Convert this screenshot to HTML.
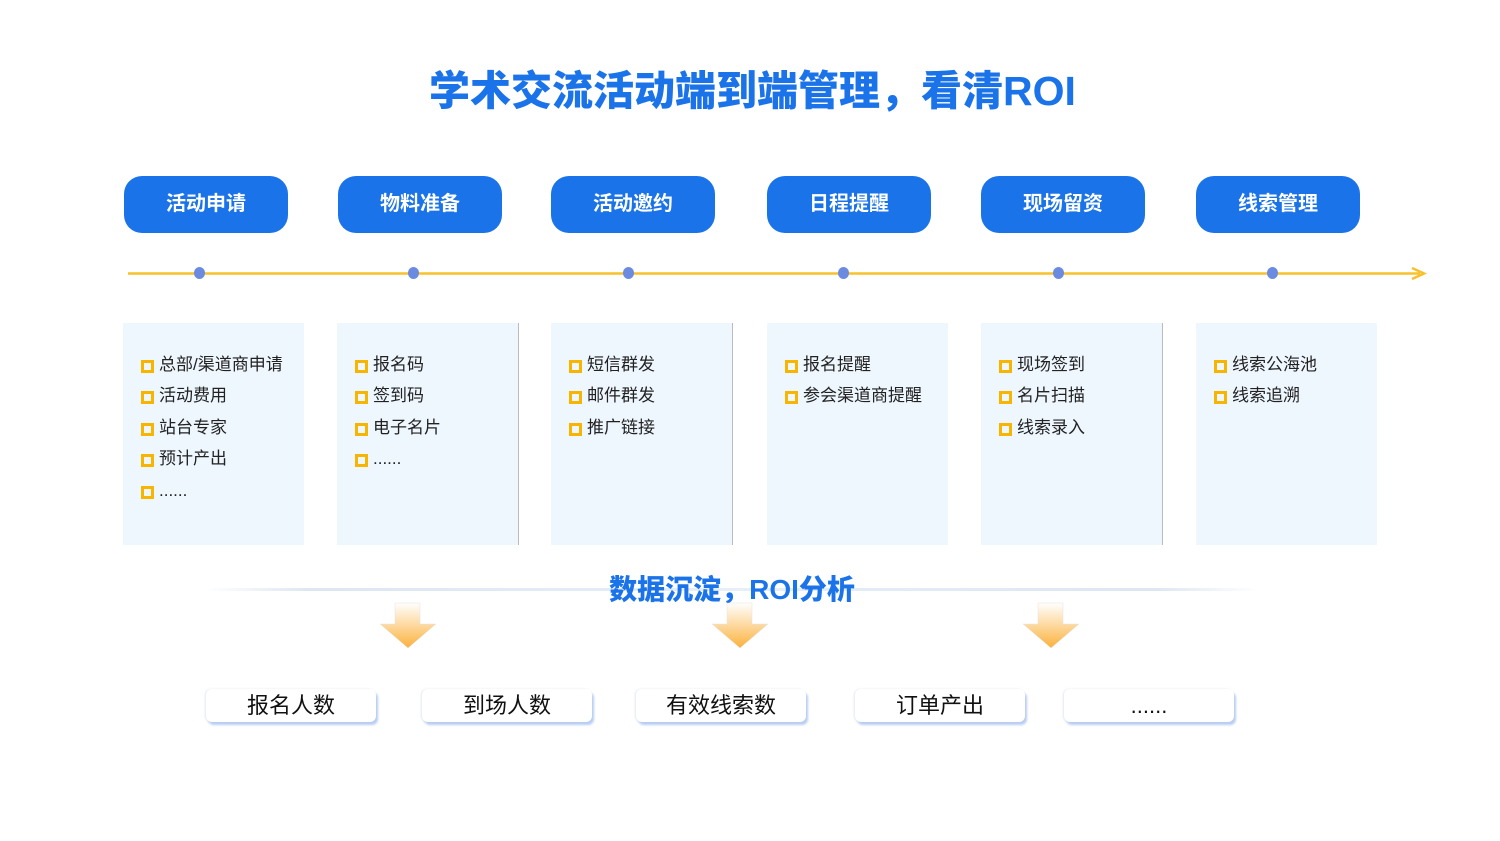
<!DOCTYPE html>
<html><head><meta charset="utf-8"><style>
body{margin:0;width:1500px;height:841px;background:#fff;position:relative;overflow:hidden;font-family:"Liberation Sans","Noto Sans CJK SC",sans-serif}
.a{position:absolute}
.title{left:0;width:1505px;top:65px;text-align:center;font-size:41px;font-weight:900;color:#1a73e8;line-height:52px}
.pill{height:57px;top:176px;width:164px;background:#1a73e8;border-radius:18px;color:#fff;font-weight:bold;font-size:20px;text-align:center;line-height:57px}
.dot{width:11px;height:12px;border-radius:50%;background:#6b8be0;top:267px}
.box{top:323px;width:181px;height:222px;background:#eef6fe}
.box div{position:absolute;left:18px;font-size:17px;color:#222;line-height:20px;padding-left:18px}
.box div:before{content:"";position:absolute;left:0;top:5px;width:7px;height:7px;border:3px solid #f7b500}
.bb{top:689px;height:33px;width:170px;background:#fff;border-radius:6px;box-shadow:2px 3px 2px #b8cdf2, -1px 0 2px #e3e8f0;text-align:center;font-size:22px;line-height:34px;color:#111}
</style></head><body>
<div class="a title">学术交流活动端到端管理，看清ROI</div>
<div class="a pill" style="left:124px">活动申请</div>
<div class="a pill" style="left:338px">物料准备</div>
<div class="a pill" style="left:551px">活动邀约</div>
<div class="a pill" style="left:767px">日程提醒</div>
<div class="a pill" style="left:981px">现场留资</div>
<div class="a pill" style="left:1196px">线索管理</div>
<svg class="a" style="left:0;top:0" width="1500" height="300"><line x1="128" y1="273.5" x2="1420" y2="273.5" stroke="#f8c12c" stroke-width="2.5"/><path d="M1412 268 L1424 273.5 L1412 279" fill="none" stroke="#f8c12c" stroke-width="2.5"/></svg>
<div class="a dot" style="left:194px"></div><div class="a dot" style="left:408px"></div><div class="a dot" style="left:623px"></div><div class="a dot" style="left:838px"></div><div class="a dot" style="left:1053px"></div><div class="a dot" style="left:1267px"></div>
<div class="a box" style="left:123px"><div style="top:32px">总部/渠道商申请</div><div style="top:63px">活动费用</div><div style="top:95px">站台专家</div><div style="top:126px">预计产出</div><div style="top:158px">......</div></div>
<div class="a box" style="left:337px;border-right:1px solid #bbb"><div style="top:32px">报名码</div><div style="top:63px">签到码</div><div style="top:95px">电子名片</div><div style="top:126px">......</div></div>
<div class="a box" style="left:551px;border-right:1px solid #bbb"><div style="top:32px">短信群发</div><div style="top:63px">邮件群发</div><div style="top:95px">推广链接</div></div>
<div class="a box" style="left:767px"><div style="top:32px">报名提醒</div><div style="top:63px">参会渠道商提醒</div></div>
<div class="a box" style="left:981px;border-right:1px solid #bbb"><div style="top:32px">现场签到</div><div style="top:63px">名片扫描</div><div style="top:95px">线索录入</div></div>
<div class="a box" style="left:1196px"><div style="top:32px">线索公海池</div><div style="top:63px">线索追溯</div></div>
<div class="a" style="left:205px;top:588px;width:1055px;height:3px;background:linear-gradient(90deg,#fff,#dde6f2 10%,#e6eef8 50%,#dde6f2 90%,#fff)"></div>
<div class="a" style="left:592px;top:572px;width:280px;text-align:center;font-size:28px;font-weight:900;color:#1a73e8;line-height:36px">数据沉淀，ROI分析</div>
<svg class="a" style="left:0;top:0" width="1500" height="700">
<defs><linearGradient id="g" x1="0" y1="0" x2="0" y2="1"><stop offset="0" stop-color="#fff"/><stop offset="1" stop-color="#fbb13c"/></linearGradient></defs>
<g fill="url(#g)" stroke="#e3e3e3" stroke-width="0.5">
<path d="M395 603 L420 603 L420 624 L436 624 L408 648 L380 624 L395 624Z"/>
<path d="M727 603 L752 603 L752 624 L768 624 L740 648 L712 624 L727 624Z"/>
<path d="M1038 603 L1063 603 L1063 624 L1079 624 L1051 648 L1023 624 L1038 624Z"/>
</g></svg>
<div class="a bb" style="left:206px">报名人数</div>
<div class="a bb" style="left:422px">到场人数</div>
<div class="a bb" style="left:636px">有效线索数</div>
<div class="a bb" style="left:855px">订单产出</div>
<div class="a bb" style="left:1064px">......</div>
</body></html>
